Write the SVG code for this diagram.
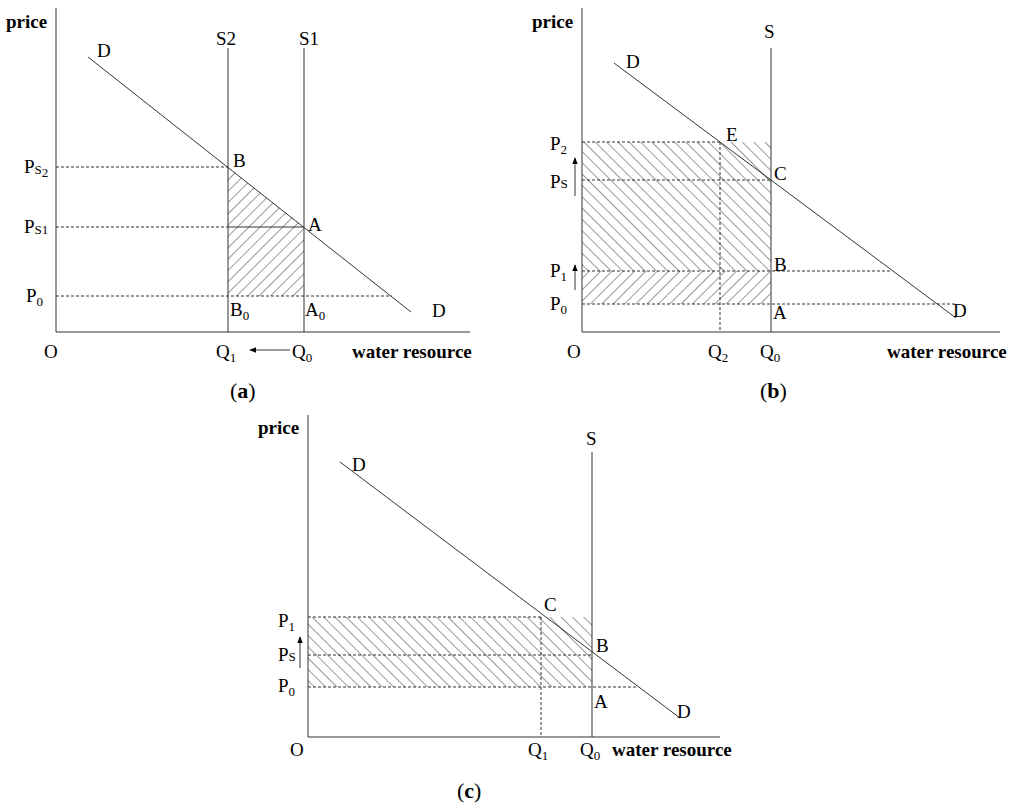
<svg xmlns="http://www.w3.org/2000/svg" width="1024" height="809" viewBox="0 0 1024 809">
<defs>
<pattern id="hf" patternUnits="userSpaceOnUse" width="8" height="8" patternTransform="rotate(45)"><line x1="0" y1="0" x2="0" y2="8" stroke="#000" stroke-width="1.8"/></pattern>
<pattern id="hb" patternUnits="userSpaceOnUse" width="8" height="8" patternTransform="rotate(-45)"><line x1="0" y1="0" x2="0" y2="8" stroke="#000" stroke-width="1.8"/></pattern>
<marker id="ar" viewBox="0 0 10 10" refX="9" refY="5" markerWidth="7" markerHeight="7" orient="auto"><path d="M0,1 L10,5 L0,9 z" fill="#000"/></marker>
</defs>
<style>
text{font-family:"Liberation Serif",serif;font-size:19px;fill:#000}
.b{font-weight:bold}
.s{font-size:13px}
.cap{font-size:22px}
line,polyline{stroke:#333;stroke-width:1;fill:none}
.d{stroke-dasharray:3,2}
</style>
<rect width="1024" height="809" fill="#fff"/>
<g id="panel-a">
<polygon points="228,167 304,227 304,296 228,296" fill="url(#hf)"/>
<g id="connectors-a">
<polyline points="56,8 56,332 470,332"/>
<line x1="88" y1="57" x2="411" y2="312"/>
<line x1="228" y1="48" x2="228" y2="332"/>
<line x1="304" y1="48" x2="304" y2="332"/>
<line class="d" x1="56" y1="167" x2="228" y2="167"/>
<line class="d" x1="56" y1="227" x2="228" y2="227"/>
<line x1="228" y1="227" x2="304" y2="227"/>
<line class="d" x1="56" y1="296" x2="392" y2="296"/>
<line x1="290" y1="350" x2="250" y2="350" marker-end="url(#ar)"/>
</g>
<text x="6" y="28" class="b">price</text>
<text x="97" y="57">D</text><text x="432" y="317">D</text>
<text x="216" y="45">S2</text><text x="299" y="45">S1</text>
<text x="233" y="167">B</text><text x="308" y="231">A</text>
<text x="230" y="316">B<tspan class="s" dy="4">0</tspan></text>
<text x="305" y="316">A<tspan class="s" dy="4">0</tspan></text>
<text x="24" y="173">P<tspan class="s" dy="1">S</tspan><tspan class="s" dy="3">2</tspan></text>
<text x="24" y="233">P<tspan class="s" dy="1">S1</tspan></text>
<text x="26" y="302">P<tspan class="s" dy="4">0</tspan></text>
<text x="44" y="358">O</text>
<text x="216" y="358">Q<tspan class="s" dy="4">1</tspan></text>
<text x="292" y="358">Q<tspan class="s" dy="4">0</tspan></text>
<text x="352" y="358" class="b">water resource</text>
<text x="230" y="398" class="cap">(<tspan class="b">a</tspan>)</text>
</g>
<g id="panel-b">
<rect x="582" y="142" width="189" height="129" fill="url(#hb)"/>
<rect x="582" y="271" width="189" height="33" fill="url(#hf)"/>
<g id="connectors-b">
<polyline points="582,8 582,332 1000,332"/>
<line x1="614" y1="63" x2="956" y2="318"/>
<line x1="771" y1="48" x2="771" y2="332"/>
<line class="d" x1="720" y1="142" x2="720" y2="332"/>
<line class="d" x1="582" y1="142" x2="720" y2="142"/>
<line class="d" x1="582" y1="180" x2="771" y2="180"/>
<line class="d" x1="582" y1="271" x2="890" y2="271"/>
<line class="d" x1="582" y1="304" x2="955" y2="304"/>
<line x1="575" y1="196" x2="575" y2="158" marker-end="url(#ar)"/>
<line x1="575" y1="290" x2="575" y2="265" marker-end="url(#ar)"/>
</g>
<text x="532" y="28" class="b">price</text>
<text x="764" y="38">S</text>
<text x="626" y="68">D</text><text x="953" y="317">D</text>
<text x="726" y="141">E</text><text x="774" y="180">C</text>
<text x="774" y="271">B</text><text x="773" y="319">A</text>
<text x="550" y="150">P<tspan class="s" dy="4">2</tspan></text>
<text x="550" y="188">P<tspan class="s">S</tspan></text>
<text x="550" y="277">P<tspan class="s" dy="4">1</tspan></text>
<text x="550" y="310">P<tspan class="s" dy="4">0</tspan></text>
<text x="567" y="358">O</text>
<text x="708" y="358">Q<tspan class="s" dy="4">2</tspan></text>
<text x="760" y="358">Q<tspan class="s" dy="4">0</tspan></text>
<text x="887" y="358" class="b">water resource</text>
<text x="760" y="398" class="cap">(<tspan class="b">b</tspan>)</text>
</g>
<g id="panel-c">
<rect x="308" y="617" width="284" height="70" fill="url(#hb)"/>
<g id="connectors-c">
<polyline points="308,415 308,737 720,737"/>
<line x1="340" y1="462" x2="680" y2="718"/>
<line x1="592" y1="452" x2="592" y2="737"/>
<line class="d" x1="541" y1="617" x2="541" y2="737"/>
<line class="d" x1="308" y1="617" x2="541" y2="617"/>
<line class="d" x1="308" y1="655" x2="592" y2="655"/>
<line class="d" x1="308" y1="687" x2="636" y2="687"/>
<line x1="300" y1="668" x2="300" y2="637" marker-end="url(#ar)"/>
</g>
<text x="258" y="434" class="b">price</text>
<text x="586" y="445">S</text>
<text x="352" y="471">D</text><text x="677" y="718">D</text>
<text x="544" y="611">C</text><text x="596" y="652">B</text><text x="594" y="708">A</text>
<text x="278" y="627">P<tspan class="s" dy="4">1</tspan></text>
<text x="278" y="661">P<tspan class="s">S</tspan></text>
<text x="278" y="692">P<tspan class="s" dy="4">0</tspan></text>
<text x="290" y="756">O</text>
<text x="528" y="756">Q<tspan class="s" dy="4">1</tspan></text>
<text x="580" y="756">Q<tspan class="s" dy="4">0</tspan></text>
<text x="612" y="756" class="b">water resource</text>
<text x="457" y="798" class="cap">(<tspan class="b">c</tspan>)</text>
</g>
</svg>
